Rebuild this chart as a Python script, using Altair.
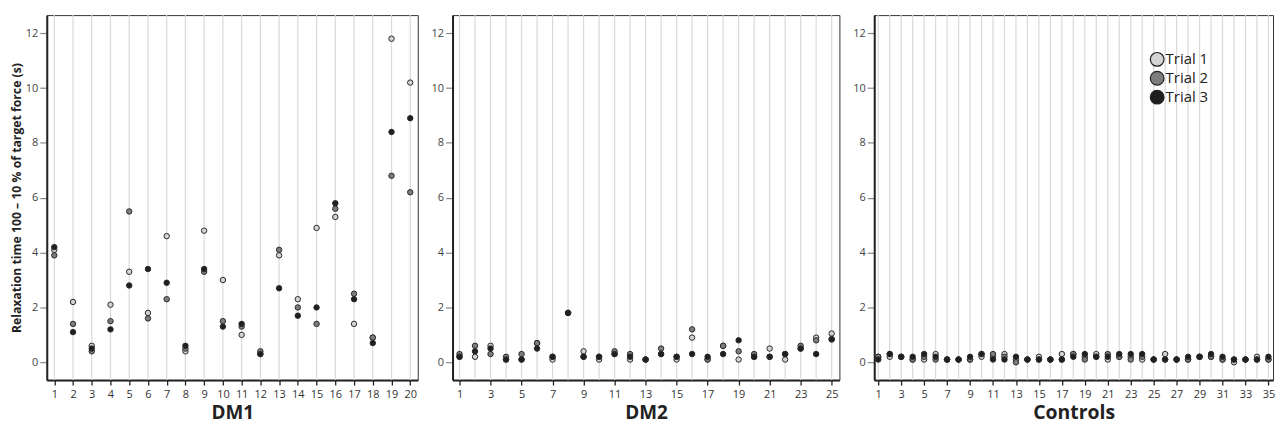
import altair as alt
import pandas as pd

trials = ["Trial 1", "Trial 2", "Trial 3"]
trial_colors = ["#d3d3d3", "#7d7d7d", "#1f1f1f"]

dm1_ids = list(range(1, 21))
dm1_t1 = [4.1, 2.2, 0.6, 2.1, 3.3, 1.8, 4.6, 0.4, 4.8, 3.0, 1.0, 0.3, 3.9, 2.3, 4.9, 5.3, 1.4, 0.9, 11.8, 10.2]
dm1_t2 = [3.9, 1.4, 0.4, 1.5, 5.5, 1.6, 2.3, 0.5, 3.3, 1.5, 1.3, 0.4, 4.1, 2.0, 1.4, 5.6, 2.5, 0.9, 6.8, 6.2]
dm1_t3 = [4.2, 1.1, 0.5, 1.2, 2.8, 3.4, 2.9, 0.6, 3.4, 1.3, 1.4, 0.3, 2.7, 1.7, 2.0, 5.8, 2.3, 0.7, 8.4, 8.9]

dm2_ids = list(range(1, 26))
dm2_t1 = [0.2, 0.2, 0.6, 0.1, 0.1, 0.7, 0.1, 1.8, 0.4, 0.1, 0.3, 0.1, 0.1, 0.3, 0.1, 0.9, 0.1, 0.6, 0.1, 0.2, 0.5, 0.1, 0.5, 0.9, 1.05]
dm2_t2 = [0.3, 0.6, 0.3, 0.2, 0.3, 0.7, 0.2, 1.8, 0.2, 0.2, 0.4, 0.3, 0.1, 0.5, 0.2, 1.2, 0.1, 0.6, 0.4, 0.3, 0.2, 0.3, 0.6, 0.8, 0.85]
dm2_t3 = [0.2, 0.4, 0.5, 0.1, 0.1, 0.5, 0.2, 1.8, 0.2, 0.2, 0.3, 0.2, 0.1, 0.3, 0.2, 0.3, 0.2, 0.3, 0.8, 0.2, 0.2, 0.3, 0.5, 0.3, 0.83]

ctrl_ids = list(range(1, 36))
ctrl_t1 = [0.2, 0.2, 0.2, 0.1, 0.1, 0.3, 0.1, 0.1, 0.1, 0.2, 0.2, 0.3, 0.1, 0.1, 0.2, 0.1, 0.3, 0.3, 0.2, 0.3,
           0.1, 0.2, 0.2, 0.1, 0.1, 0.3, 0.1, 0.1, 0.2, 0.2, 0.1, 0.0, 0.1, 0.2, 0.1]
ctrl_t2 = [0.2, 0.3, 0.2, 0.1, 0.2, 0.1, 0.1, 0.1, 0.1, 0.3, 0.3, 0.2, 0.0, 0.1, 0.1, 0.1, 0.1, 0.3, 0.1, 0.2,
           0.3, 0.2, 0.1, 0.2, 0.1, 0.1, 0.1, 0.1, 0.2, 0.2, 0.1, 0.1, 0.1, 0.1, 0.1]
ctrl_t3 = [0.1, 0.3, 0.2, 0.2, 0.3, 0.2, 0.1, 0.1, 0.2, 0.3, 0.1, 0.1, 0.2, 0.1, 0.1, 0.1, 0.1, 0.2, 0.3, 0.2,
           0.2, 0.3, 0.3, 0.3, 0.1, 0.1, 0.1, 0.2, 0.2, 0.3, 0.2, 0.1, 0.1, 0.1, 0.2]

y_ticks = [0, 2, 4, 6, 8, 10, 12]
FONT = "Open Sans"


def panel(ids, t1, t2, t3, title, xdomain, width, label_values, title_size, ytitle=None, legend=None):
    rows = []
    for name, vals in zip(trials, [t1, t2, t3]):
        for i, v in zip(ids, vals):
            rows.append({"id": i, "val": v, "trial": name})
    df = pd.DataFrame(rows)
    xaxis = alt.Axis(values=label_values, format="d", grid=False, title=title,
                     titleFontSize=title_size, titleFontWeight="bold", titleFont=FONT, titleColor="#222",
                     titlePadding=5, labelFont=FONT, labelFontSize=11, labelColor="#333",
                     labelPadding=3, labelFlush=False, labelOverlap=False, tickSize=5,
                     tickColor="#222", tickWidth=1.3, domainColor="#222", domainWidth=2)
    xenc = alt.X("id:Q", scale=alt.Scale(domain=xdomain, nice=False, zero=False), axis=xaxis)
    yaxis_kwargs = dict(values=y_ticks, grid=False, labelFont=FONT, labelFontSize=11, labelColor="#444",
                        labelPadding=2, tickSize=7, tickColor="#888", tickWidth=1.2,
                        domainColor="#222", domainWidth=2)
    if ytitle:
        yaxis = alt.Axis(title=ytitle, titleFont=FONT, titleFontSize=12.3, titleFontWeight="bold",
                         titleColor="#222", titlePadding=2, **yaxis_kwargs)
    else:
        yaxis = alt.Axis(title=None, **yaxis_kwargs)
    yenc = alt.Y("val:Q", scale=alt.Scale(domain=[-0.65, 12.66], nice=False, zero=False), axis=yaxis)

    grid = alt.Chart(pd.DataFrame({"id": ids})).mark_rule(color="#d9d9d9", strokeWidth=1.2).encode(x=xenc)
    fill_kwargs = dict(scale=alt.Scale(domain=trials, range=trial_colors))
    if legend is None:
        fill_kwargs["legend"] = None
    else:
        fill_kwargs["legend"] = legend
    pts = alt.Chart(df).mark_circle(size=30, stroke="#2a2a2a", strokeWidth=1, opacity=1).encode(
        x=xenc, y=yenc, fill=alt.Fill("trial:N", **fill_kwargs)
    )
    return alt.layer(grid, pts).properties(width=width, height=367)


legend = alt.Legend(title=None, orient="none", legendX=277, legendY=37, symbolType="circle",
                    symbolSize=190, symbolStrokeColor="#222", symbolStrokeWidth=1.2,
                    symbolOpacity=1, labelFont=FONT, labelFontSize=15, labelColor="#222",
                    labelOffset=1, rowPadding=0, padding=0)

p1 = panel(dm1_ids, dm1_t1, dm1_t2, dm1_t3, "DM1", [0.6, 20.4], 373, dm1_ids, 19,
           ytitle="Relaxation time 100 \u2013 10 % of target force (s)")
p2 = panel(dm2_ids, dm2_t1, dm2_t2, dm2_t3, "DM2", [0.55, 25.5], 389,
           [i for i in dm2_ids if i % 2 == 1], 19)
p3 = panel(ctrl_ids, ctrl_t1, ctrl_t2, ctrl_t3, "Controls", [0.65, 35.4], 401,
           [i for i in ctrl_ids if i % 2 == 1], 19.5, legend=legend)

chart = alt.hconcat(p1, p2, p3, spacing=11).resolve_scale(
    x="independent", fill="independent"
).resolve_legend(fill="independent").configure_view(
    stroke="#333", strokeWidth=1
).properties(padding={"left": 1, "top": 4, "right": 0, "bottom": 0})

chart.save("out.html", embed_options={"renderer": "svg", "actions": False})
